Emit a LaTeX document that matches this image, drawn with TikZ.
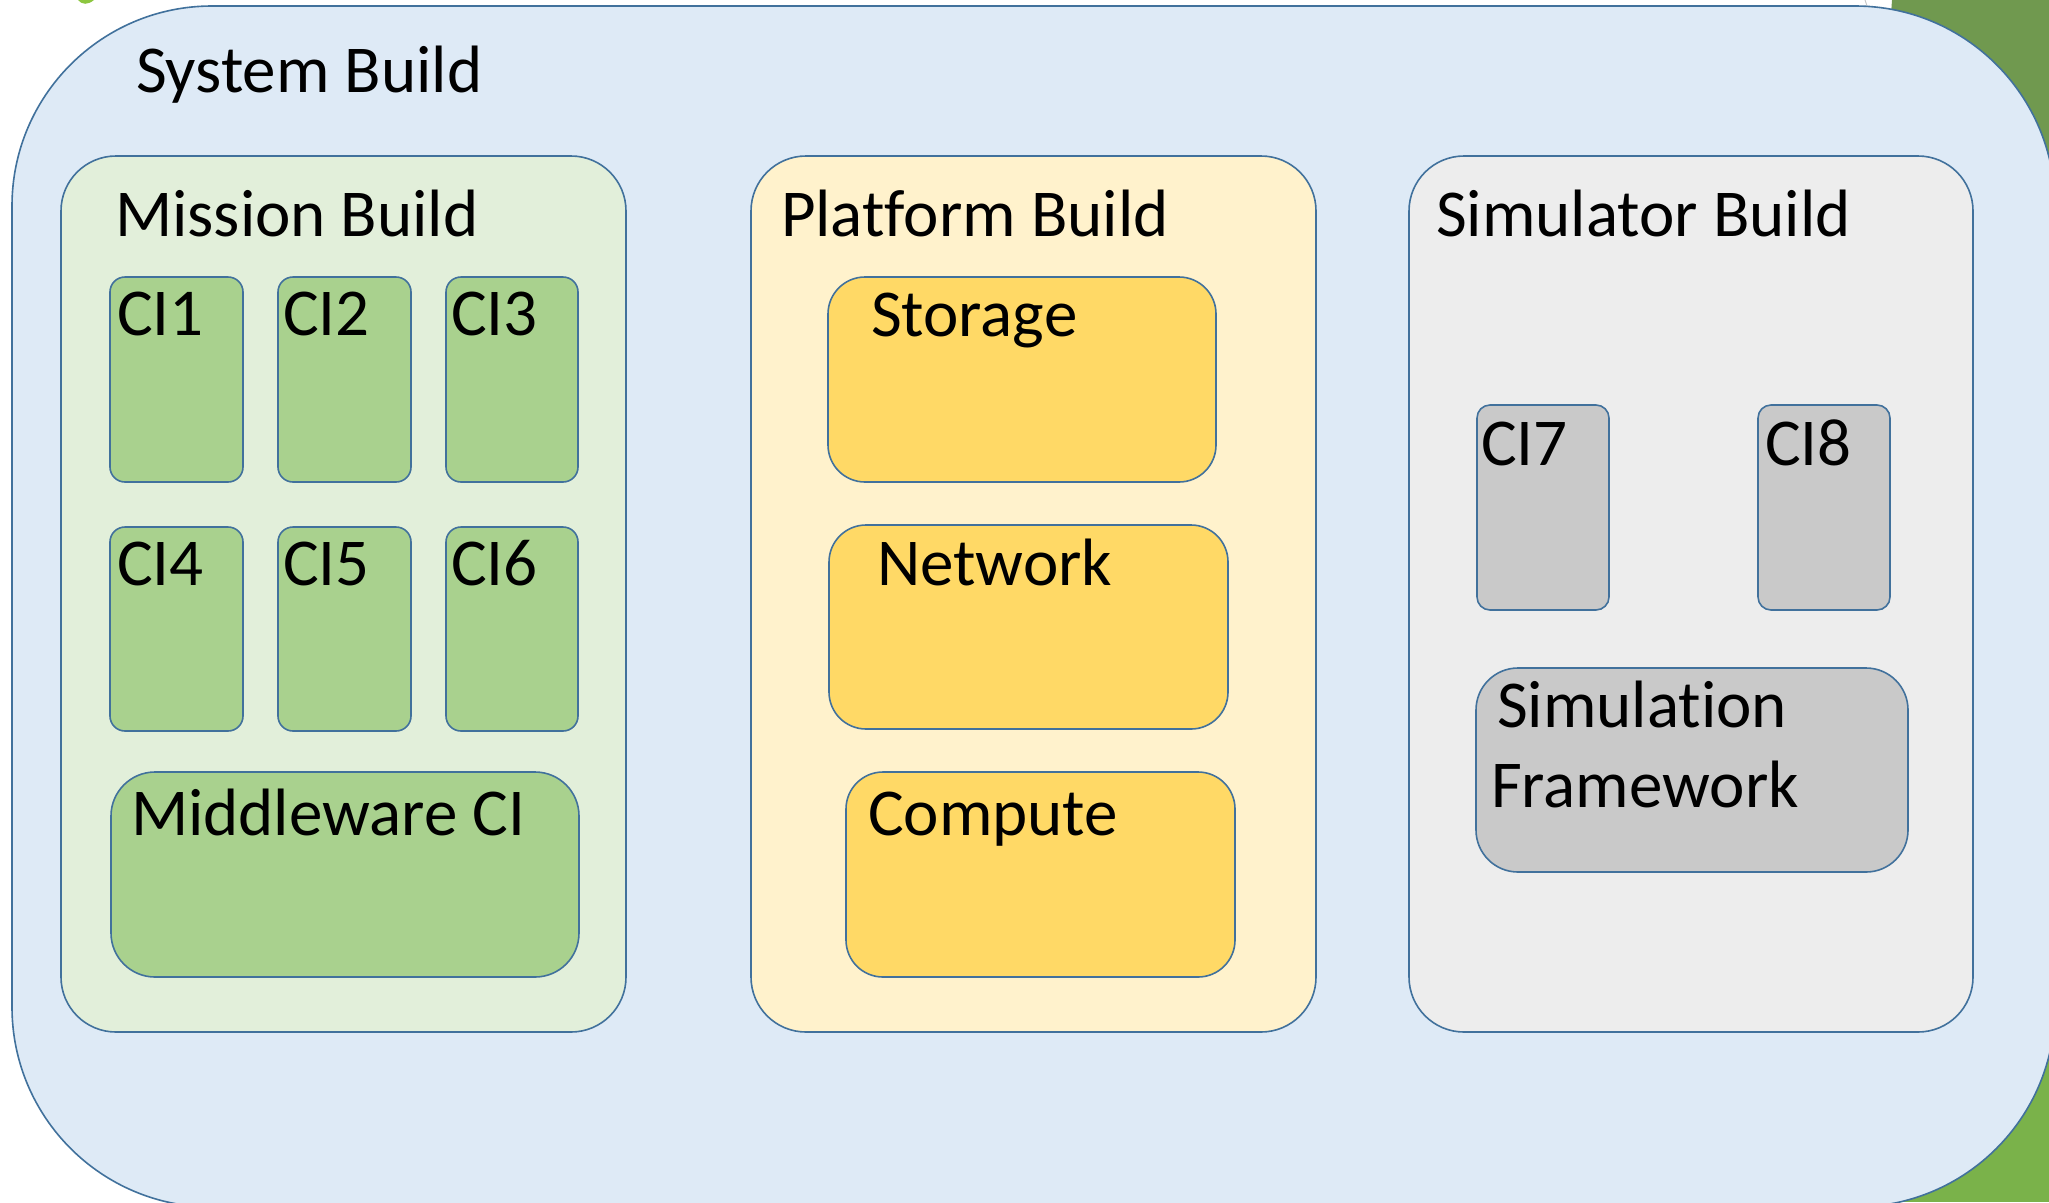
\documentclass[tikz,border=0pt]{standalone}
\usepackage{fontspec}
\setmainfont{Carlito}[Ligatures=CommonOff]

\definecolor{edgeblue}{HTML}{41719C}
\definecolor{sysfill}{HTML}{DEEAF6}
\definecolor{missfill}{HTML}{E2EFDA}
\definecolor{cifill}{HTML}{A9D18E}
\definecolor{platfill}{HTML}{FFF2CC}
\definecolor{yelfill}{HTML}{FFD966}
\definecolor{simfill}{HTML}{EDEDED}
\definecolor{greyfill}{HTML}{C9C9C9}
\definecolor{leafdark}{HTML}{70994F}
\definecolor{leaflight}{HTML}{7AB24A}
\definecolor{leafbright}{HTML}{8CC63F}

% rounded panel given by its corners: name, x1, y1, x2, y2, style
\newcommand\roundpanel[6]{%
  \node[panel, #6, minimum width={#4pt-#2pt}, minimum height={#5pt-#3pt}]
    (#1) at ({(#2+#4)/2},{(#3+#5)/2}) {};}

\begin{document}
\begin{tikzpicture}[x=1pt, y=-1pt,
  panel/.style={draw=edgeblue, line width=1.6pt, inner sep=0pt, outer sep=0pt},
  sysbox/.style={fill=sysfill, rounded corners=200pt},
  buildbox/.style={rounded corners=55pt},
  cibox/.style={fill=cifill, rounded corners=15pt},
  yelbox/.style={fill=yelfill, rounded corners=37pt},
  greybox/.style={fill=greyfill},
  lbl/.style={anchor=base west, inner sep=0pt, outer sep=0pt,
              font=\fontsize{67}{80}\selectfont, text=black}]
\useasboundingbox (0,0) rectangle (2049,1202);

% leaves behind the frame
\fill[leafdark] (1892,0) -- (2049,0) -- (2049,600) -- (1850,600) -- cycle;
\fill[leaflight] (1850,600) rectangle (2049,1202);
\fill[leafbright] (78,0) .. controls (82,5) and (88,5) .. (94,0) -- cycle;
\draw[gray!45, line width=1pt] (1865,0) -- (1867,6);

% outer frame
\roundpanel{sys}{12}{6}{2055}{1207}{sysbox}
\node[lbl] (tsys) at (136,92) {System Build};

% mission build
\roundpanel{mission}{61}{156}{626}{1032}{buildbox, fill=missfill}
\node[lbl] (tmission) at (115,236) {Mission Build};
\roundpanel{ci1}{110}{277}{243}{482}{cibox}
\roundpanel{ci2}{278}{277}{411}{482}{cibox}
\roundpanel{ci3}{446}{277}{578}{482}{cibox}
\roundpanel{ci4}{110}{527}{243}{731}{cibox}
\roundpanel{ci5}{278}{527}{411}{731}{cibox}
\roundpanel{ci6}{446}{527}{578}{731}{cibox}
\roundpanel{mid}{111}{772}{579}{977}{fill=cifill, rounded corners=44pt}
\node[lbl] (tci1) at (117,335) {CI1};
\node[lbl] (tci2) at (283,335) {CI2};
\node[lbl] (tci3) at (451,335) {CI3};
\node[lbl] (tci4) at (117,585) {CI4};
\node[lbl] (tci5) at (283,585) {CI5};
\node[lbl] (tci6) at (451,585) {CI6};
\node[lbl] (tmid) at (131,835) {Middleware CI};

% platform build
\roundpanel{platform}{751}{156}{1316}{1032}{buildbox, fill=platfill}
\node[lbl] (tplatform) at (781,236) {Platform Build};
\roundpanel{storage}{828}{277}{1216}{482}{yelbox}
\roundpanel{network}{829}{525}{1228}{729}{yelbox}
\roundpanel{compute}{846}{772}{1235}{977}{yelbox}
\node[lbl] (tstorage) at (871,336) {Storage};
\node[lbl] (tnetwork) at (877,585) {Network};
\node[lbl] (tcompute) at (868,835) {Compute};

% simulator build
\roundpanel{simulator}{1409}{156}{1973}{1032}{buildbox, fill=simfill}
\node[lbl] (tsimulator) at (1436,236) {Simulator Build};
\roundpanel{ci7}{1477}{405}{1609}{610}{greybox, rounded corners=13pt}
\roundpanel{ci8}{1758}{405}{1890}{610}{greybox, rounded corners=13pt}
\roundpanel{simfw}{1476}{668}{1908}{872}{greybox, rounded corners=42pt}
\node[lbl] (tci7) at (1481,465) {CI7};
\node[lbl] (tci8) at (1765,465) {CI8};
\node[lbl] (tsim1) at (1497,727) {Simulation};
\node[lbl] (tsim2) at (1491,807) {Framework};
\end{tikzpicture}
\end{document}
